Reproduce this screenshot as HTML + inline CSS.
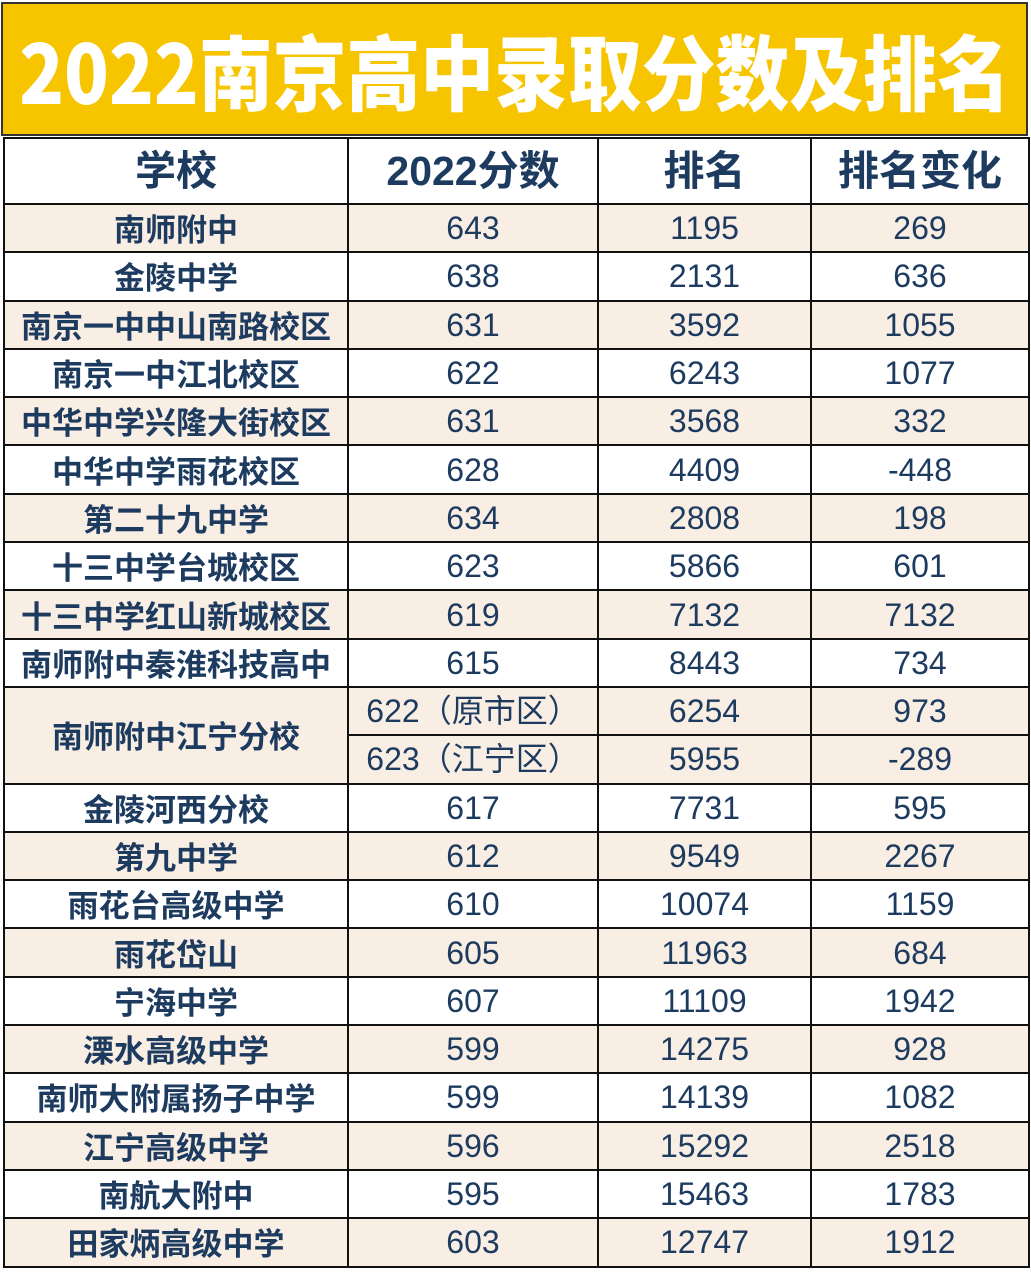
<!DOCTYPE html>
<html><head><meta charset="utf-8"><style>
body{margin:0;width:1031px;height:1280px;background:#fff;overflow:hidden;font-family:"Liberation Sans","Noto Sans CJK SC",sans-serif;}
.title{position:absolute;left:1px;top:2px;width:1027px;height:134px;background:#f7c500;border:2px solid #333;box-sizing:border-box;color:#fff;font-weight:900;font-size:82px;text-align:center;line-height:130px;font-family:"Noto Sans CJK SC",sans-serif;white-space:nowrap;}
.title span{display:inline-block;transform:scaleX(0.9);transform-origin:center;margin:0 -80px;}
table{position:absolute;left:3px;top:137px;border-collapse:collapse;width:1025px;table-layout:fixed;}
td{border:2px solid #111;text-align:center;color:#1d3a5f;font-size:32px;height:46.3px;padding:0;line-height:44px;font-family:"Liberation Sans","Noto Sans CJK SC",sans-serif;}
td.n{font-weight:bold;font-family:"Noto Sans CJK SC",sans-serif;font-size:31px;}
tr.h td{height:64px;font-size:41px;font-weight:bold;font-family:"Liberation Sans","Noto Sans CJK SC",sans-serif;}
tr.b td{background:#f8eee4;}
</style></head><body>
<div class="title"><span>2022南京高中录取分数及排名</span></div>
<table>
<col style="width:344px"><col style="width:250px"><col style="width:213px"><col style="width:218px">
<tr class="h"><td>学校</td><td>2022分数</td><td>排名</td><td>排名变化</td></tr>
<tr class="b"><td class="n">南师附中</td><td>643</td><td>1195</td><td>269</td></tr>
<tr><td class="n">金陵中学</td><td>638</td><td>2131</td><td>636</td></tr>
<tr class="b"><td class="n">南京一中中山南路校区</td><td>631</td><td>3592</td><td>1055</td></tr>
<tr><td class="n">南京一中江北校区</td><td>622</td><td>6243</td><td>1077</td></tr>
<tr class="b"><td class="n">中华中学兴隆大街校区</td><td>631</td><td>3568</td><td>332</td></tr>
<tr><td class="n">中华中学雨花校区</td><td>628</td><td>4409</td><td>-448</td></tr>
<tr class="b"><td class="n">第二十九中学</td><td>634</td><td>2808</td><td>198</td></tr>
<tr><td class="n">十三中学台城校区</td><td>623</td><td>5866</td><td>601</td></tr>
<tr class="b"><td class="n">十三中学红山新城校区</td><td>619</td><td>7132</td><td>7132</td></tr>
<tr><td class="n">南师附中秦淮科技高中</td><td>615</td><td>8443</td><td>734</td></tr>
<tr class="b"><td class="n" rowspan="2">南师附中江宁分校</td><td>622（原市区）</td><td>6254</td><td>973</td></tr>
<tr class="b"><td>623（江宁区）</td><td>5955</td><td>-289</td></tr>
<tr><td class="n">金陵河西分校</td><td>617</td><td>7731</td><td>595</td></tr>
<tr class="b"><td class="n">第九中学</td><td>612</td><td>9549</td><td>2267</td></tr>
<tr><td class="n">雨花台高级中学</td><td>610</td><td>10074</td><td>1159</td></tr>
<tr class="b"><td class="n">雨花岱山</td><td>605</td><td>11963</td><td>684</td></tr>
<tr><td class="n">宁海中学</td><td>607</td><td>11109</td><td>1942</td></tr>
<tr class="b"><td class="n">溧水高级中学</td><td>599</td><td>14275</td><td>928</td></tr>
<tr><td class="n">南师大附属扬子中学</td><td>599</td><td>14139</td><td>1082</td></tr>
<tr class="b"><td class="n">江宁高级中学</td><td>596</td><td>15292</td><td>2518</td></tr>
<tr><td class="n">南航大附中</td><td>595</td><td>15463</td><td>1783</td></tr>
<tr class="b"><td class="n">田家炳高级中学</td><td>603</td><td>12747</td><td>1912</td></tr>
</table>
</body></html>
